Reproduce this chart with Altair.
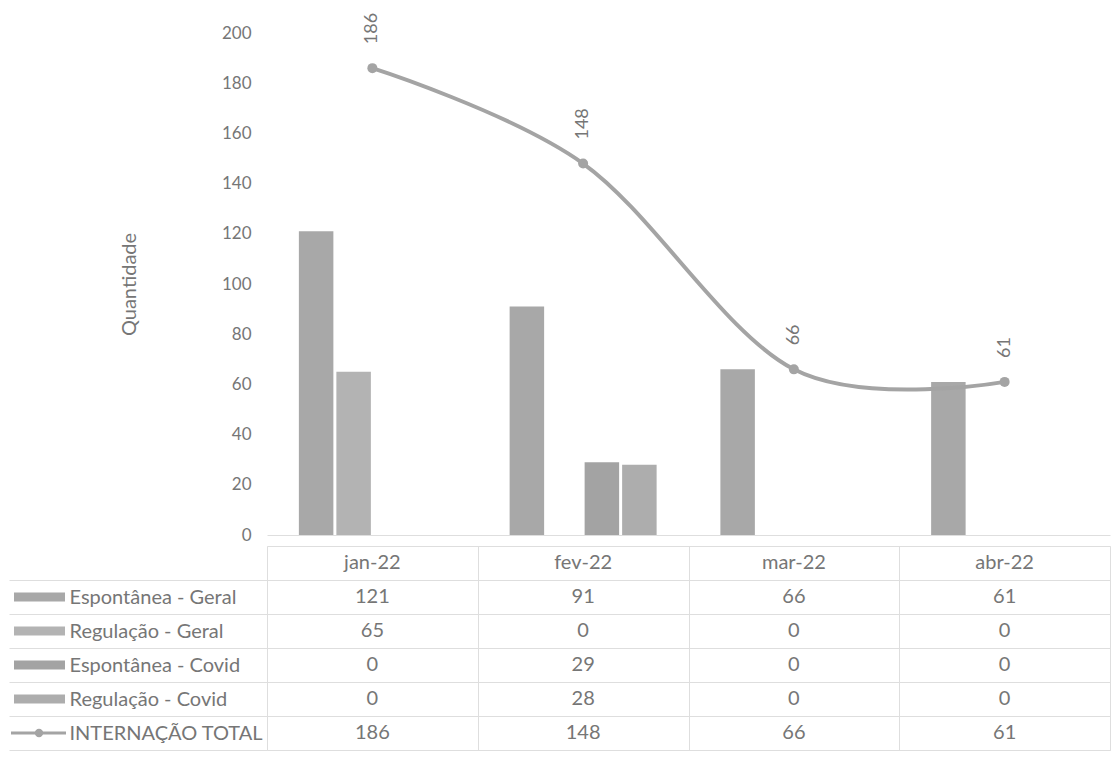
import altair as alt
import pandas as pd

# ---------------- data ----------------
months = ["jan-22", "fev-22", "mar-22", "abr-22"]
series = ["Espontânea - Geral", "Regulação - Geral", "Espontânea - Covid", "Regulação - Covid"]
esp_geral = [121, 91, 66, 61]
reg_geral = [65, 0, 0, 0]
esp_covid = [0, 29, 0, 0]
reg_covid = [0, 28, 0, 0]
total_name = "INTERNAÇÃO TOTAL"
total = [186, 148, 66, 61]
y_title = "Quantidade"
y_ticks = [0, 20, 40, 60, 80, 100, 120, 140, 160, 180, 200]

bar_colors = ["#a8a8a8", "#b3b3b3", "#a3a3a3", "#adadad"]
line_color = "#a4a4a4"
text_color = "#767676"
grid_color = "#dedede"
FONT = "Lato"

W = 843
H = 502
ROW = 34

# ---------------- tables ----------------
series_values = [esp_geral, reg_geral, esp_covid, reg_covid]
bars_df = pd.DataFrame(
    [{"month": m, "series": s, "value": v}
     for s, vals in zip(series, series_values)
     for m, v in zip(months, vals)]
)
total_df = pd.DataFrame({"month": months, "value": total})

header_key = " "
rows = [header_key] + series + [total_name]
table_records = [{"row": header_key, "month": m, "txt": m} for m in months]
for s, vals in zip(series + [total_name], series_values + [total]):
    for m, v in zip(months, vals):
        table_records.append({"row": s, "month": m, "txt": str(v)})
table_df = pd.DataFrame(table_records)
swatch_df = pd.DataFrame({"row": series})
line_sw_df = pd.DataFrame({"row": [total_name]})

# ---------------- top chart ----------------
x_top = alt.X(
    "month:N", sort=months,
    scale=alt.Scale(domain=months, paddingInner=0, paddingOuter=0),
    axis=alt.Axis(labels=False, ticks=False, title=None, domainColor=grid_color, grid=False,
                  minExtent=0, maxExtent=0),
)
y_top = alt.Y(
    "value:Q",
    scale=alt.Scale(domain=[0, 200], nice=False),
    axis=alt.Axis(
        values=y_ticks, title=y_title, grid=False, domain=False, ticks=False,
        labelPadding=16, labelFont=FONT, labelFontSize=17, labelColor=text_color,
        titleFont=FONT, titleFontSize=20, titleFontWeight="normal", titleColor=text_color,
        titlePadding=82,
    ),
)

bars = alt.Chart(bars_df).mark_bar().encode(
    x=x_top,
    xOffset=alt.XOffset("series:N", sort=series,
                        scale=alt.Scale(domain=series, paddingInner=0.08, paddingOuter=0.85)),
    y=y_top,
    color=alt.Color("series:N", scale=alt.Scale(domain=series, range=bar_colors), legend=None),
)
line = alt.Chart(total_df).mark_line(
    interpolate="cardinal", color=line_color, strokeWidth=4
).encode(x=x_top, y=alt.Y("value:Q"))
pts = alt.Chart(total_df).mark_point(
    filled=True, size=100, color=line_color, opacity=1
).encode(x=x_top, y=alt.Y("value:Q"))
labels = alt.Chart(total_df).mark_text(
    angle=270, align="left", baseline="middle", dx=24, font=FONT, fontSize=18, color=text_color
).encode(x=x_top, y=alt.Y("value:Q"), text="value:Q")

top = alt.layer(bars, line, pts, labels).properties(width=W, height=H)

# ---------------- data table ----------------
x_bot = alt.X(
    "month:N", sort=months,
    scale=alt.Scale(domain=months, paddingInner=0, paddingOuter=0),
    axis=alt.Axis(orient="top", labels=False, ticks=False, domain=False, title=None,
                  grid=True, tickBand="extent", gridColor=grid_color,
                  minExtent=0, maxExtent=0),
)
y_bot = alt.Y(
    "row:N", sort=rows,
    scale=alt.Scale(domain=rows, paddingInner=0, paddingOuter=0),
    axis=alt.Axis(
        values=rows[1:], title=None, domain=False, ticks=True, tickSize=258,
        tickColor=grid_color, tickBand="extent", grid=True, gridColor=grid_color,
        labelAlign="left", labelPadding=-60, labelFont=FONT, labelFontSize=20,
        labelColor=text_color, labelLimit=0,
    ),
)

cells = alt.Chart(table_df).mark_text(
    font=FONT, fontSize=20, color=text_color
).encode(x=x_bot, y=y_bot, text="txt:N")

swatches = alt.Chart(swatch_df).mark_rule(strokeWidth=9).encode(
    x=alt.value(-253), x2=alt.value(-202),
    y=alt.Y("row:N", sort=rows),
    color=alt.Color("row:N", scale=alt.Scale(domain=series, range=bar_colors), legend=None),
)
line_sw = alt.Chart(line_sw_df).mark_rule(strokeWidth=3, color=line_color).encode(
    x=alt.value(-256), x2=alt.value(-201), y=alt.Y("row:N", sort=rows)
)
line_sw_pt = alt.Chart(line_sw_df).mark_point(
    filled=True, size=70, color=line_color, opacity=1
).encode(x=alt.value(-228), y=alt.Y("row:N", sort=rows))

bottom = alt.layer(cells, swatches, line_sw, line_sw_pt).properties(
    width=W, height=ROW * len(rows), view=alt.ViewBackground(stroke=grid_color)
)

chart = alt.vconcat(top, bottom, spacing=-8).properties(
    padding={"left": 0, "top": 4, "right": 0, "bottom": 0},
    background="white",
).configure_view(stroke=None).resolve_scale(color="independent")

chart.save("out.html", embed_options={"renderer": "svg", "actions": False})
